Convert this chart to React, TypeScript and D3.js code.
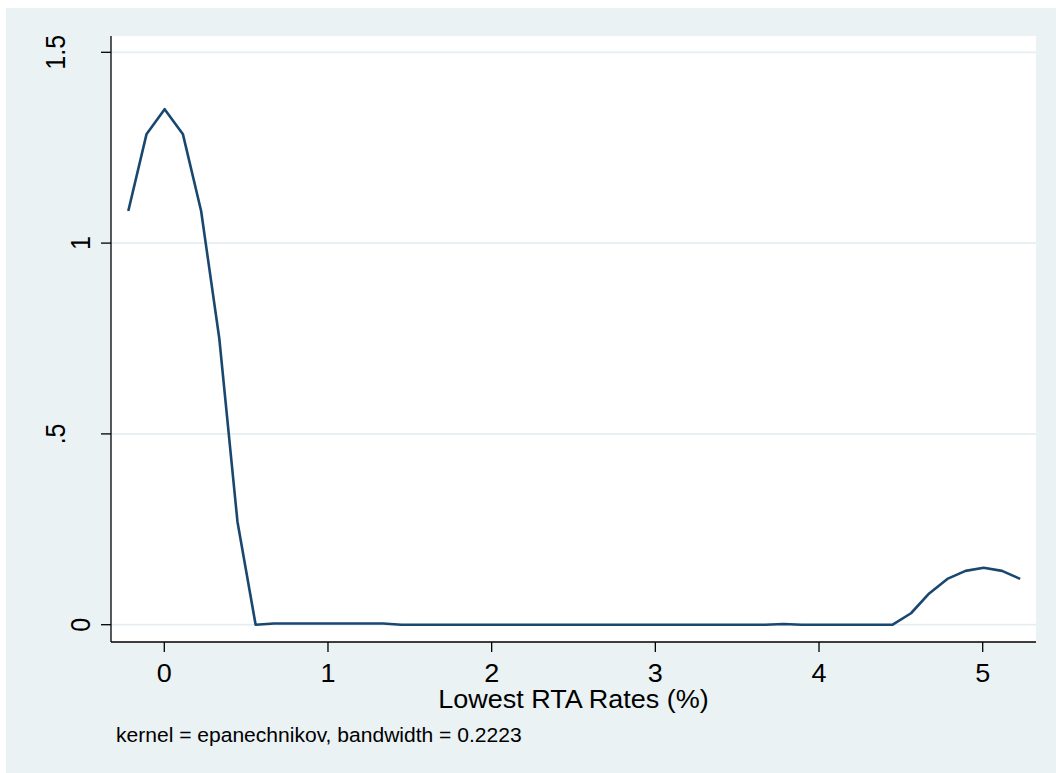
import { useRef, useEffect } from 'react'
import * as d3 from 'd3'

// density estimate points (x = rate, y = density)
const rates = [
  -0.22, -0.109, 0.002, 0.114, 0.225, 0.336, 0.447, 0.558, 0.67, 0.781,
  0.892, 1.003, 1.114, 1.226, 1.337, 1.448, 1.559, 1.67, 1.782, 1.893,
  2.004, 2.115, 2.226, 2.338, 2.449, 2.56, 2.671, 2.782, 2.894, 3.005,
  3.116, 3.227, 3.338, 3.45, 3.561, 3.672, 3.783, 3.894, 4.006, 4.117,
  4.228, 4.339, 4.45, 4.562, 4.673, 4.784, 4.895, 5.006, 5.118, 5.229,
]
const density = [
  1.084, 1.285, 1.351, 1.285, 1.084, 0.75, 0.27, 0.0, 0.003, 0.003,
  0.003, 0.003, 0.003, 0.003, 0.003, 0.0, 0.0, 0.0, 0.0, 0.0,
  0.0, 0.0, 0.0, 0.0, 0.0, 0.0, 0.0, 0.0, 0.0, 0.0,
  0.0, 0.0, 0.0, 0.0, 0.0, 0.0, 0.002, 0.0, 0.0, 0.0,
  0.0, 0.0, 0.0, 0.03, 0.082, 0.12, 0.141, 0.149, 0.141, 0.12,
]

const xTicks = [0, 1, 2, 3, 4, 5]
const yTicks = [0, 0.5, 1, 1.5]
const yTickLabels = ['0', '.5', '1', '1.5']

const xTitle = 'Lowest RTA Rates (%)'
const note = 'kernel = epanechnikov, bandwidth = 0.2223'

const W = 1056
const H = 773
const plot = { left: 111, top: 36, right: 1036, bottom: 642 }
const FONT = '"Liberation Sans", Arial, sans-serif'
const STRETCH = 1.08

const App = () => {
  const ref = useRef<SVGSVGElement | null>(null)

  useEffect(() => {
    const svg = d3.select(ref.current)
    svg.selectAll('*').remove()

    const x = d3.scaleLinear().domain([0, 5]).range([164.3, 982.7])
    const y = d3.scaleLinear().domain([0, 1.5]).range([624.7, 52.3])

    // outer panel
    svg.append('rect')
      .attr('x', 6).attr('y', 8)
      .attr('width', W - 6).attr('height', H - 8)
      .attr('fill', '#eaf2f3')

    // plot region
    svg.append('rect')
      .attr('x', plot.left).attr('y', plot.top)
      .attr('width', plot.right - plot.left).attr('height', plot.bottom - plot.top)
      .attr('fill', '#ffffff')

    // gridlines
    svg.append('g')
      .selectAll('line')
      .data(yTicks)
      .join('line')
      .attr('x1', plot.left).attr('x2', plot.right)
      .attr('y1', d => y(d)).attr('y2', d => y(d))
      .attr('stroke', '#e6eef1')
      .attr('stroke-width', 1.8)

    // density line
    const pts: [number, number][] = rates.map((r, i) => [r, density[i]])
    const line = d3.line<[number, number]>()
      .x(d => x(d[0]))
      .y(d => y(d[1]))
    svg.append('path')
      .datum(pts)
      .attr('d', line)
      .attr('fill', 'none')
      .attr('stroke', '#1a476f')
      .attr('stroke-width', 2.6)
      .attr('stroke-linejoin', 'round')

    // axes lines
    svg.append('line')
      .attr('x1', plot.left).attr('x2', plot.left)
      .attr('y1', plot.top).attr('y2', plot.bottom)
      .attr('stroke', '#000').attr('stroke-width', 1.3)
    svg.append('line')
      .attr('x1', plot.left).attr('x2', plot.right)
      .attr('y1', plot.bottom).attr('y2', plot.bottom)
      .attr('stroke', '#000').attr('stroke-width', 1.3)

    // y ticks + labels
    const yg = svg.append('g')
    yg.selectAll('line')
      .data(yTicks)
      .join('line')
      .attr('x1', plot.left - 10).attr('x2', plot.left)
      .attr('y1', d => y(d)).attr('y2', d => y(d))
      .attr('stroke', '#000').attr('stroke-width', 1.3)
    yg.selectAll('text')
      .data(yTicks)
      .join('text')
      .attr('transform', (d) => {
        const bx = Number.isInteger(d) ? 90 : 65
        return `translate(${bx},${y(d)}) scale(${STRETCH},1) rotate(-90)`
      })
      .attr('text-anchor', 'middle')
      .attr('font-family', FONT)
      .attr('font-size', 25)
      .attr('fill', '#000')
      .text((d, i) => yTickLabels[i])

    // x ticks + labels
    const xg = svg.append('g')
    xg.selectAll('line')
      .data(xTicks)
      .join('line')
      .attr('x1', d => x(d)).attr('x2', d => x(d))
      .attr('y1', plot.bottom).attr('y2', plot.bottom + 10)
      .attr('stroke', '#000').attr('stroke-width', 1.3)
    xg.selectAll('text')
      .data(xTicks)
      .join('text')
      .attr('transform', d => `translate(${x(d)},682) scale(${STRETCH},1)`)
      .attr('text-anchor', 'middle')
      .attr('font-family', FONT)
      .attr('font-size', 25)
      .attr('fill', '#000')
      .text(d => String(d))

    // axis title
    svg.append('text')
      .attr('transform', `translate(${(plot.left + plot.right) / 2},708) scale(${STRETCH},1)`)
      .attr('text-anchor', 'middle')
      .attr('font-family', FONT)
      .attr('font-size', 25)
      .attr('fill', '#000')
      .text(xTitle)

    // note
    svg.append('text')
      .attr('transform', `translate(116,742) scale(${STRETCH},1)`)
      .attr('font-family', FONT)
      .attr('font-size', 19.5)
      .attr('fill', '#000')
      .text(note)
  }, [])

  return (
    <svg
      ref={ref}
      width={W}
      height={H}
      style={{ position: 'absolute', left: 0, top: 0, background: '#ffffff' }}
    />
  )
}

export default App
